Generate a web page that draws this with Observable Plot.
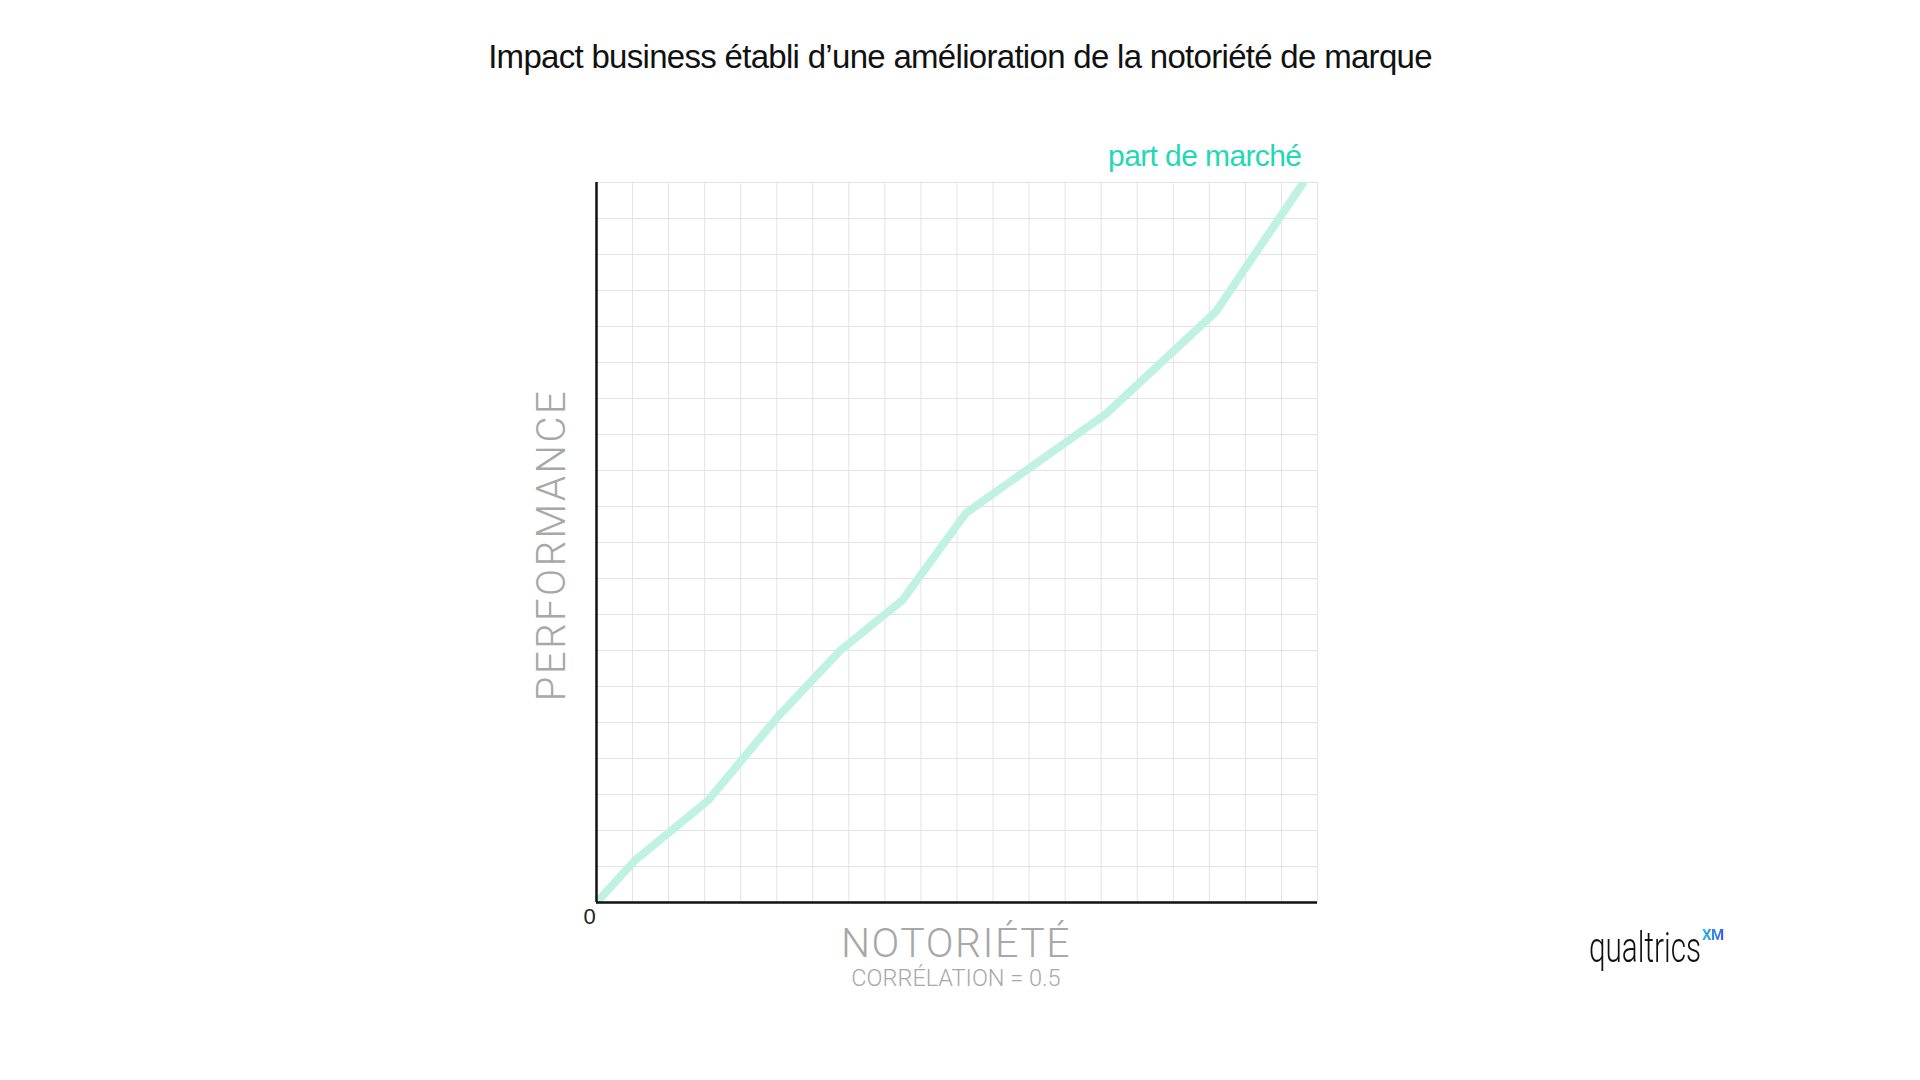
<!DOCTYPE html>
<html>
<head>
<meta charset="utf-8">
<script src="https://cdn.jsdelivr.net/npm/d3@7"></script>
<script src="https://cdn.jsdelivr.net/npm/@observablehq/plot@0.6"></script>
<style>
  html, body { margin: 0; padding: 0; background: #fff; overflow: hidden; }
  #page { position: relative; width: 1920px; height: 1080px; }
  #chart { position: absolute; left: 0; top: 0; }
  .title { position: absolute; left: 0; width: 1920px; top: 40px; text-align: center;
    font-family: "Liberation Sans", Arial, sans-serif; font-size: 33px; color: #111;
    letter-spacing: -0.7px; line-height: 1; }
  .xlabel { position: absolute; left: 956px; transform: translateX(-50%); white-space: nowrap;
    font-family: Roboto, "Liberation Sans", sans-serif; font-weight: 300; color: #a8a8a8; line-height: 1; }
  .ylabel { position: absolute; left: 552px; top: 545px; white-space: nowrap;
    transform: translate(-50%, -50%) rotate(-90deg);
    font-family: Roboto, "Liberation Sans", sans-serif; font-weight: 300; color: #a8a8a8;
    font-size: 40px; letter-spacing: 2.5px; line-height: 1; }
  .logo { position: absolute; left: 1589px; top: 926px; white-space: nowrap; line-height: 1; }
  .logo .q { display: inline-block; font-family: Roboto, "Liberation Sans", sans-serif; font-weight: 300;
    font-size: 43px; color: #111; transform: scaleX(0.69); transform-origin: left bottom; }
  .logo .xm { position: absolute; left: 113px; top: 2px; font-family: Roboto, sans-serif; font-weight: 700;
    font-size: 15px; letter-spacing: -0.5px;
    background: linear-gradient(90deg, #27b8ef, #3d55ef); -webkit-background-clip: text; background-clip: text; color: transparent; }
</style>
</head>
<body>
<div id="page">
  <div id="chart"></div>
  <div class="title" id="title"></div>
  <div class="ylabel" id="ylabel"></div>
  <div class="xlabel" id="xlabel" style="top:923px;font-size:41px;letter-spacing:1.5px;"></div>
  <div class="xlabel" id="xsub" style="top:967px;font-size:23.5px;"></div>
  <div class="logo"><span class="q" id="logoText"></span><span class="xm">XM</span></div>
</div>
<script>
// ---- data ----
const titleText = "Impact business établi d’une amélioration de la notoriété de marque";
const xAxisLabel = "NOTORIÉTÉ";
const xAxisSubLabel = "CORRÉLATION = 0.5";
const yAxisLabel = "PERFORMANCE";
const seriesName = "part de marché";
const logoName = "qualtrics";

// notoriété (grid units 0–20) and performance (grid units 0–20)
const notoriete   = [0, 1.07, 3.1, 5.03, 6.76, 8.49, 10.25, 14.13, 17.18, 19.61];
const performance = [0, 1.17, 2.84, 5.16, 7.0, 8.40, 10.82, 13.57, 16.41, 20];

const gridTicks = [0,1,2,3,4,5,6,7,8,9,10,11,12,13,14,15,16,17,18,19,20];
const xTickLabels = [0];
const axisDomain = [0, 20];

// ---- build ----
const points = notoriete.map((x, i) => ({x, y: performance[i]}));
const last = points[points.length - 1];

document.getElementById("title").textContent = titleText;
document.getElementById("xlabel").textContent = xAxisLabel;
document.getElementById("xsub").textContent = xAxisSubLabel;
document.getElementById("ylabel").textContent = yAxisLabel;
document.getElementById("logoText").textContent = logoName;

const chart = Plot.plot({
  width: 1920,
  height: 1080,
  marginLeft: 596,
  marginRight: 603,
  marginTop: 182,
  marginBottom: 178,
  style: { background: "transparent", fontFamily: "'Liberation Sans', Arial, sans-serif" },
  x: { domain: axisDomain },
  y: { domain: axisDomain, axis: null },
  marks: [
    Plot.gridX(gridTicks, { stroke: "#e3e3e3", strokeOpacity: 1, strokeWidth: 1 }),
    Plot.gridY(gridTicks, { stroke: "#e3e3e3", strokeOpacity: 1, strokeWidth: 1 }),
    Plot.line(points, { x: "x", y: "y", stroke: "#bff2e3", strokeWidth: 8,
      strokeLinecap: "round", strokeLinejoin: "round", clip: true }),
    Plot.ruleX([0], { stroke: "#111", strokeWidth: 2.5 }),
    Plot.ruleY([0], { stroke: "#111", strokeWidth: 2.5 }),
    Plot.axisX({ ticks: xTickLabels, tickSize: 0, tickPadding: 6, dx: -7, fontSize: 22,
      color: "#222", label: null }),
    Plot.text([last], { x: "x", y: "y", text: () => seriesName, textAnchor: "end",
      lineAnchor: "bottom", dx: -2, dy: -17, fill: "#1fd8b4", fontSize: 30,
      fontFamily: "'Liberation Sans', Arial, sans-serif", letterSpacing: "-0.6px" })
  ]
});
chart.querySelectorAll("text").forEach(t => {
  if (t.textContent === seriesName) t.style.letterSpacing = "-0.6px";
});
document.getElementById("chart").appendChild(chart);
</script>
</body>
</html>
